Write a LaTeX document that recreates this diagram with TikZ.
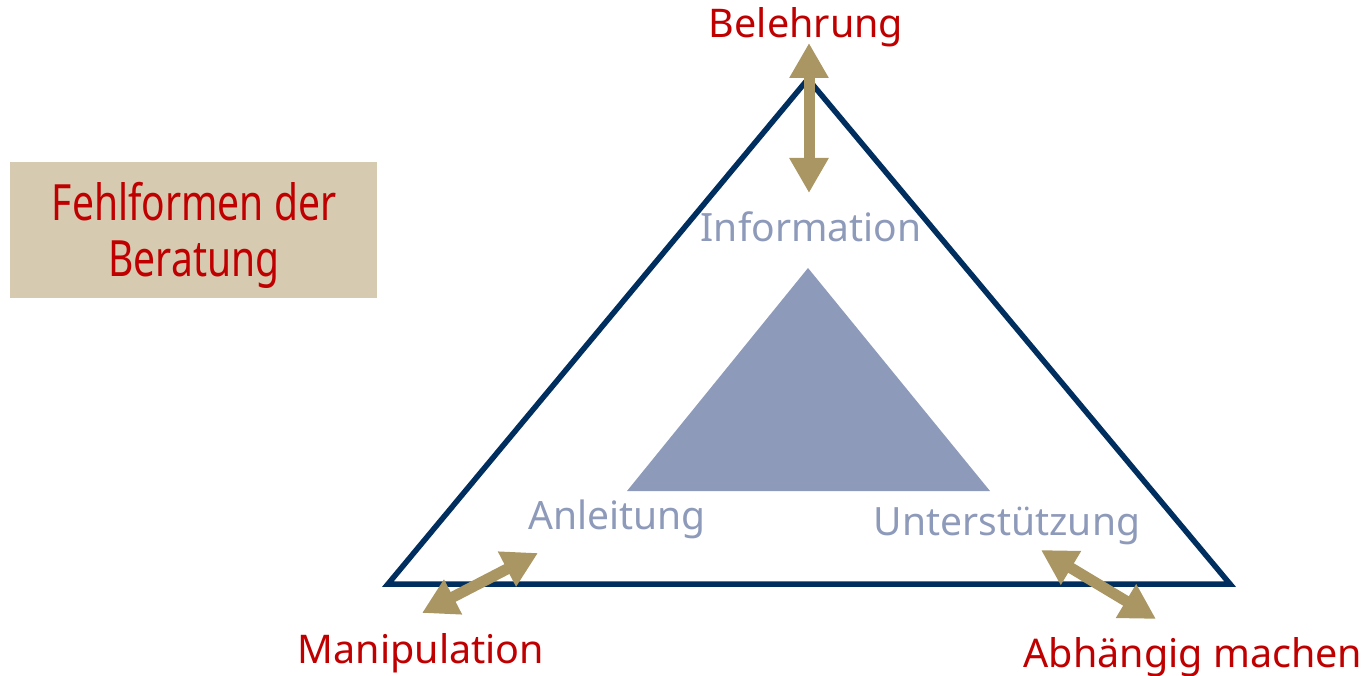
\documentclass[tikz,border=0pt]{standalone}
\usepackage{fontspec}
\setmainfont{Noto Sans}
\newfontfamily\narrowfont[FakeStretch=0.78]{Noto Sans}
\usepackage{tikz}
\usetikzlibrary{arrows.meta,positioning}
\definecolor{navy}{RGB}{0,47,95}
\definecolor{slate}{RGB}{142,154,186}
\definecolor{darkred}{RGB}{192,0,0}
\definecolor{gold}{RGB}{170,150,98}
\definecolor{sand}{RGB}{214,203,176}

\begin{document}
\begin{tikzpicture}[x=1pt,y=-1pt,
    every node/.style={inner sep=0pt},
    fehler/.style={text=darkred,font=\fontsize{39.5}{46}\selectfont,anchor=base},
    stufe/.style={text=slate,font=\fontsize{39}{45}\selectfont,anchor=base},
    pfeil/.style={draw=gold,line width=11pt,{Triangle[width=37pt,length=35pt]}-{Triangle[width=37pt,length=35pt]}}]
    \useasboundingbox (0,0) rectangle (1369,676);
    % title box
    \node[fill=sand,minimum width=367pt,minimum height=136pt] (titlebox) at (193.5,230) {};
    \node[text=darkred,align=center,font=\narrowfont\fontsize{50}{56}\selectfont] (title) at (194,235) {Fehlformen der\\Beratung};
    % triangles
    \draw[navy,line width=5.5pt,line join=miter] (808,79) -- (388,584) -- (1230,584) -- cycle;
    \fill[slate] (808,268) -- (627,491) -- (990,491) -- cycle;
    % labels
    \node[stufe] (info) at (811,242) {Information};
    \node[stufe] (anl) at (617,529) {Anleitung};
    \node[stufe] (unt) at (1007,535) {Unterstützung};
    \node[fehler] (bel) at (806,38) {Belehrung};
    \node[fehler] (man) at (421,663) {Manipulation};
    \node[fehler] (abh) at (1193,667) {Abhängig machen};
    % arrow ends
    \coordinate (belA) at (809,43);
    \coordinate (belB) at (809,193);
    \coordinate (manA) at (422,613);
    \coordinate (manB) at (538,553);
    \coordinate (abhA) at (1041,550);
    \coordinate (abhB) at (1156,619);
    \draw[pfeil] (belA) -- (belB);
    \draw[pfeil] (manA) -- (manB);
    \draw[pfeil] (abhA) -- (abhB);
\end{tikzpicture}
\end{document}
